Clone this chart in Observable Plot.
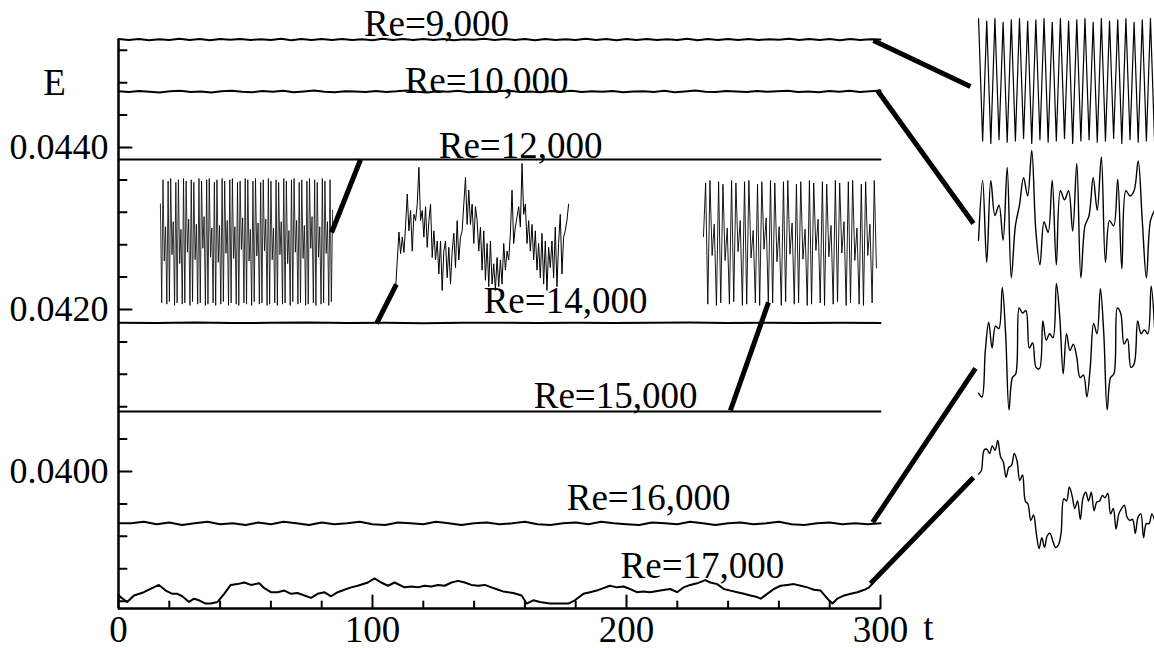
<!DOCTYPE html>
<html>
<head>
<meta charset="utf-8">
<script src="https://cdn.jsdelivr.net/npm/d3@7"></script>
<script src="https://cdn.jsdelivr.net/npm/@observablehq/plot@0.6"></script>
<style>
  html, body { margin: 0; padding: 0; background: #fff; }
  #chart svg { display: block; }
</style>
</head>
<body>
<div id="chart"></div>
<script>
// ---------------- data ----------------
const tMajor = [0, 100, 200, 300];
const tMinor = [20, 40, 60, 80, 120, 140, 160, 180, 220, 240, 260, 280];
const eMajor = [0.0400, 0.0420, 0.0440];
const eMinor = [0.0384, 0.0388, 0.0392, 0.0396, 0.0404, 0.0408, 0.0412, 0.0416,
                0.0424, 0.0428, 0.0432, 0.0436, 0.0444, 0.0448, 0.0452];

const reNames = ["Re=9,000", "Re=10,000", "Re=12,000", "Re=14,000", "Re=15,000", "Re=16,000", "Re=17,000"];

// main energy series (E vs t, evenly sampled over 0..300)
const e9000 = [0.045338,0.045327,0.045340,0.045325,0.045337,0.045328,0.045341,0.045326,0.045339,0.045324,0.045338,0.045329,0.045340,0.045326,0.045337,0.045327,0.045341,0.045325,0.045339,0.045328,0.045338,0.045326,0.045340,0.045327,0.045337,0.045325,0.045341,0.045328,0.045339,0.045326,0.045338,0.045327,0.045340,0.045325,0.045337,0.045329,0.045341,0.045326,0.045339,0.045327,0.045338,0.045325,0.045340,0.045328,0.045337,0.045326,0.045341,0.045327,0.045339,0.045325,0.045338,0.045328,0.045340,0.045326,0.045337,0.045327,0.045341,0.045325,0.045339,0.045328,0.045338,0.045326,0.045340,0.045327,0.045337,0.045329,0.045341,0.045326,0.045339,0.045327,0.045338,0.045325,0.045340,0.045328,0.045337,0.045333];
const e10000 = [0.044695,0.044684,0.044698,0.044688,0.044680,0.044694,0.044700,0.044686,0.044690,0.044679,0.044693,0.044701,0.044689,0.044683,0.044696,0.044687,0.044699,0.044682,0.044692,0.044702,0.044688,0.044681,0.044695,0.044690,0.044684,0.044698,0.044686,0.044693,0.044703,0.044687,0.044680,0.044694,0.044689,0.044699,0.044683,0.044692,0.044686,0.044697,0.044700,0.044685,0.044691,0.044682,0.044696,0.044688,0.044701,0.044684,0.044693,0.044687,0.044698,0.044681,0.044690,0.044695,0.044686,0.044699,0.044683,0.044692,0.044702,0.044688,0.044685,0.044697,0.044690,0.044684,0.044698,0.044687,0.044693,0.044700,0.044686,0.044691,0.044682,0.044696,0.044689,0.044699,0.044685,0.044694,0.044704];
const e12000 = [0.043853,0.043851,0.043852,0.043853,0.043851,0.043852,0.043852];
const e14000 = [0.041836,0.041833,0.041838,0.041832,0.041835,0.041840,0.041833,0.041836,0.041831,0.041835,0.041837,0.041833,0.041836,0.041832,0.041835,0.041838,0.041833,0.041836,0.041834,0.041835,0.041833];
const e15000 = [0.040741,0.040742,0.040740,0.040741,0.040742,0.040741];
const e16000 = [0.03936,0.03936,0.03938,0.03935,0.03937,0.03934,0.03936,0.03938,0.03935,0.03936,0.03934,0.03937,0.03935,0.03938,0.03936,0.03934,0.03937,0.03935,0.03936,0.03938,0.03935,0.03934,0.03937,0.03936,0.03935,0.03938,0.03936,0.03934,0.03936,0.03937,0.03935,0.03936,0.03938,0.03935,0.03934,0.03936,0.03937,0.03935,0.03938,0.03936,0.03935,0.03934,0.03937,0.03936,0.03935,0.03938,0.03936,0.03934,0.03936,0.03937,0.03935,0.03936,0.03938,0.03935,0.03934,0.03936,0.03937,0.03935,0.03936,0.03935,0.03936];
const t17000 = [0,0.8,3.4,6.1,10.0,12.6,15.9,18.6,21.2,23.2,25.1,27.8,29.7,31.7,34.3,36.3,39.0,41.6,44.2,46.8,49.5,52.1,55.4,57.4,60.0,62.6,65.3,67.9,70.5,73.2,75.8,78.4,81.0,83.7,86.3,88.9,91.6,94.2,98.2,100.8,103.4,106.1,108.7,112.6,115.3,117.9,120.5,123.2,125.8,128.4,131.1,133.7,136.3,138.9,141.6,144.2,146.8,149.5,151.4,155.4,158.7,160.7,163.3,165.9,169.9,173.8,177.1,179.7,183.0,185.6,188.3,190.9,193.5,196.2,198.8,201.4,204.1,206.7,209.3,213.3,217.2,219.9,222.5,225.1,227.8,231.0,233.0,235.7,238.3,240.9,243.6,246.2,248.8,251.4,252.8,255.4,258.0,260.7,263.3,265.9,268.6,271.2,273.8,276.4,279.1,281.1,283.0,285.7,288.3,290.9,293.6,295.5,296.9];
const e17000 = [0.03848,0.03845,0.03839,0.03847,0.03851,0.03855,0.03860,0.03853,0.03849,0.03849,0.03846,0.03839,0.03843,0.03841,0.03837,0.03837,0.03839,0.03849,0.03860,0.03861,0.03863,0.03860,0.03862,0.03856,0.03851,0.03851,0.03853,0.03849,0.03850,0.03847,0.03844,0.03849,0.03851,0.03846,0.03851,0.03854,0.03857,0.03859,0.03863,0.03868,0.03863,0.03859,0.03863,0.03857,0.03858,0.03857,0.03859,0.03858,0.03860,0.03859,0.03863,0.03865,0.03863,0.03860,0.03859,0.03860,0.03857,0.03854,0.03852,0.03850,0.03847,0.03837,0.03841,0.03839,0.03837,0.03837,0.03837,0.03841,0.03849,0.03851,0.03853,0.03856,0.03859,0.03857,0.03858,0.03855,0.03851,0.03852,0.03851,0.03853,0.03855,0.03851,0.03857,0.03860,0.03862,0.03866,0.03863,0.03861,0.03855,0.03853,0.03851,0.03849,0.03847,0.03845,0.03843,0.03849,0.03855,0.03859,0.03860,0.03861,0.03859,0.03857,0.03854,0.03853,0.03843,0.03837,0.03843,0.03847,0.03849,0.03851,0.03854,0.03857,0.03862];

// inset signals (relative amplitude 0..100, evenly sampled)
const inset9000 = [100,2,98,0,100,3,97,1,99,2,100,4,98,0,99,3,100,1,97,2,100,4,98,0,99,2,100,3,97,1,100,2,98,4,99,0,100,3,97,1,99,2,100,1];
const inset10000 = [31,77,14,77,50,58,31,87,2,42,58,79,65,100,38,12,45,37,77,12,69,62,69,38,90,2,42,50,79,54,95,14,46,42,78,9,69,65,69,92,46,2,46,54];
const inset12000 = [80,2,99,35,62,1,98,3,100,40,66,0,97,2,99,33,60,1,100,2,98,42,68,0,99,3,97,36,64,1,100,2,98,45,70,0,99,1,100,38,61,2,97,0,99,34,63,1,100,3,98,41,67,0,99,2,100,37,62,1,97,0,98,44,69,2,100,1,99,35,60,0,98,3,100,39,65,1,97,2,99,43,68,0,100,1,98,36,61,2,99,0,97,40,66,1,100,2,98,33,59,0,99,3,100,42,67,1,97,2,99,37,63,0,98,1,100,45,70,2,99,0,97,38,62,1,100,2,98,41,66,0,99,3,75];
const inset14000 = [1,24,46,29,42,30,51,76,47,63,31,60,55,68,97,55,63,42,66,34,55,68,26,47,24,39,13,39,0,31,39,10,34,5,31,45,18,55,24,42,47,68,89,52,79,52,68,37,66,55,31,50,16,47,8,37,3,39,5,21,0,26,3,24,5,37,16,31,24,45,79,37,50,58,66,50,100,60,68,37,55,31,52,24,47,16,37,10,45,5,39,0,34,18,39,10,50,3,37,60,13,42,47,55,68];
const inset15000 = [55,98,1,100,40,65,0,99,2,97,36,62,1,100,3,98,43,68,0,99,1,100,38,60,2,97,0,99,45,70,1,100,2,98,35,63,0,99,3,100,41,66,1,97,2,99,37,61,0,100,1,98,44,69,2,99,0,97,39,64,1,100,3,98,42,67,0,99,2,100,36,62,1,97,0,99,40,65,2,100,30];
const inset16000 = [15,12,48,70,50,67,65,97,61,2,27,30,81,77,79,50,54,35,34,71,56,61,58,100,74,30,61,48,53,43,27,29,12,35,69,61,96,61,2,27,30,81,77,53,57,35,38,71,61,64,61,98,66];
const inset17000 = [69,72,91,92,88,95,91,100,85,80,66,75,77,88,81,63,68,44,41,26,31,14,0,10,1,12,14,7,1,3,14,46,44,57,49,37,44,27,47,52,44,52,35,43,44,49,47,51,32,37,18,32,37,40,29,26,27,14,29,32,10,23,23,32,26];

// ---------------- layout (positions in data units) ----------------
const tDomain = [0, 300];
const eDomain = [0.038309, 0.045333];
const insetBoxes = [
  {values: inset9000,  t: [338.6, 407.9], e: [0.044049, 0.045592], smooth: false, w: 1.2},
  {values: inset10000, t: [338.6, 407.9], e: [0.042358, 0.043963], smooth: true,  w: 1.4},
  {values: inset12000, t: [16.5, 84.3],   e: [0.042050, 0.043617], smooth: false, w: 0.8},
  {values: inset14000, t: [109.1, 177.2], e: [0.042235, 0.043802], smooth: false, w: 1.0},
  {values: inset15000, t: [230.3, 298.4], e: [0.042050, 0.043593], smooth: false, w: 0.9},
  {values: inset16000, t: [338.6, 407.9], e: [0.040729, 0.042321], smooth: true,  w: 1.4},
  {values: inset17000, t: [338.6, 407.9], e: [0.039050, 0.040383], smooth: true,  w: 1.4}
];
const connectors = [
  {t1: 297.2, e1: 0.045321, t2: 335.4, e2: 0.044753},
  {t1: 298.8, e1: 0.044704, t2: 336.6, e2: 0.043062},
  {t1: 95.3,  e1: 0.043852, t2: 83.9,  e2: 0.042951},
  {t1: 101.6, e1: 0.041827, t2: 109.4, e2: 0.042309},
  {t1: 240.9, e1: 0.040753, t2: 255.9, e2: 0.042087},
  {t1: 296.9, e1: 0.039371, t2: 337.4, e2: 0.041272},
  {t1: 296.1, e1: 0.038618, t2: 336.6, e2: 0.039926}
];
const labelPos = [
  {t: 125.2, e: 0.045518},
  {t: 144.9, e: 0.044815},
  {t: 158.3, e: 0.044012},
  {t: 176.0, e: 0.042099},
  {t: 195.7, e: 0.040926},
  {t: 208.7, e: 0.039667},
  {t: 229.9, e: 0.038828}
];

// ---------------- build rows ----------------
const evenSeries = [e9000, e10000, e12000, e14000, e15000, e16000];
const mainRows = [];
evenSeries.forEach((arr, k) => arr.forEach((E, i) =>
  mainRows.push({re: reNames[k], t: tDomain[0] + (tDomain[1] - tDomain[0]) * i / (arr.length - 1), E})));
t17000.forEach((t, i) => mainRows.push({re: reNames[6], t, E: e17000[i]}));

const insetMarks = insetBoxes.map((b, k) => {
  const rows = b.values.map((v, i, a) => ({
    t: b.t[0] + (b.t[1] - b.t[0]) * i / (a.length - 1),
    E: b.e[0] + (b.e[1] - b.e[0]) * v / 100
  }));
  return Plot.line(rows, {x: "t", y: "E", stroke: "#000", strokeWidth: b.w,
                          curve: b.smooth ? "catmull-rom" : "linear"});
});

const labels = reNames.map((name, i) => ({name, ...labelPos[i]}));

const tickShape = {draw(ctx, l) { ctx.moveTo(0, 0); ctx.lineTo(0, -l); }};
const serif = "'Liberation Serif', 'Times New Roman', 'DejaVu Serif', serif";

const chart = Plot.plot({
  width: 1154,
  height: 648,
  marginLeft: 118,
  marginRight: 274,
  marginTop: 39,
  marginBottom: 40,
  x: {domain: tDomain, axis: null},
  y: {domain: eDomain, axis: null},
  style: {fontFamily: serif, background: "#fff", color: "#000", overflow: "visible"},
  marks: [
    // axes
    Plot.ruleX([0], {stroke: "#000", strokeWidth: 2.5}),
    Plot.ruleY([eDomain[0]], {stroke: "#000", strokeWidth: 2.5}),
    Plot.vector(eMinor, {x: 0, y: d => d, rotate: 90, length: 8, shape: tickShape, anchor: "start", stroke: "#000", strokeWidth: 2}),
    Plot.vector(eMajor, {x: 0, y: d => d, rotate: 90, length: 13, shape: tickShape, anchor: "start", stroke: "#000", strokeWidth: 2}),
    Plot.vector(tMinor, {x: d => d, y: eDomain[0], rotate: 0, length: 7, shape: tickShape, anchor: "start", stroke: "#000", strokeWidth: 2}),
    Plot.vector(tMajor, {x: d => d, y: eDomain[0], rotate: 0, length: 13, shape: tickShape, anchor: "start", stroke: "#000", strokeWidth: 2}),
    Plot.text(eMajor, {x: 0, y: d => d, text: d => d.toFixed(4), textAnchor: "end", dx: -10, fontSize: 36, fill: "#000"}),
    Plot.text(tMajor, {x: d => d, y: eDomain[0], text: d => String(d), lineAnchor: "top", dy: 7, fontSize: 37, fill: "#000"}),
    Plot.text(["E"], {x: -25.2, y: 0.044790, text: d => d, fontSize: 37, fill: "#000"}),
    Plot.text(["t"], {x: 318.9, y: 0.038062, text: d => d, fontSize: 37, fill: "#000"}),
    // main series
    Plot.line(mainRows, {x: "t", y: "E", z: "re", stroke: "#000", strokeWidth: 2, curve: "linear"}),
    // insets
    ...insetMarks,
    // connectors
    Plot.link(connectors, {x1: "t1", y1: "e1", x2: "t2", y2: "e2", stroke: "#000", strokeWidth: 5}),
    // labels
    Plot.text(labels, {x: "t", y: "e", text: "name", fontSize: 37, fill: "#000"})
  ]
});
document.getElementById("chart").appendChild(chart);
</script>
</body>
</html>
